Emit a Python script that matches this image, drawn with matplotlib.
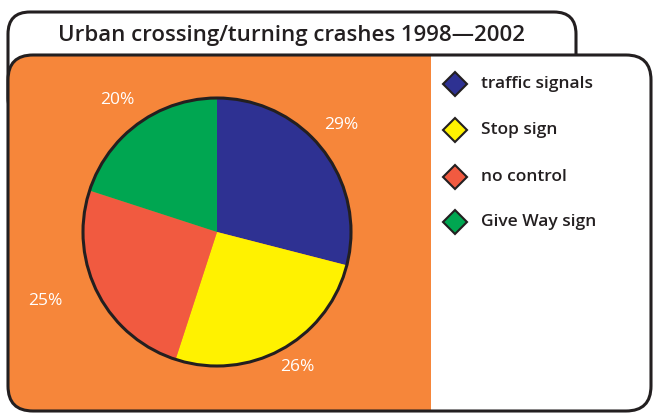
import matplotlib
matplotlib.use('Agg')
import matplotlib.pyplot as plt
from matplotlib.patches import FancyBboxPatch, Rectangle, Circle
import numpy as np

plt.rcParams['font.family'] = ['Open Sans', 'DejaVu Sans']

title = 'Urban crossing/turning crashes 1998\u20142002'
categories = ['traffic signals', 'Stop sign', 'no control', 'Give Way sign']
shares = [29, 26, 25, 20]
pct_labels = ['29%', '26%', '25%', '20%']

colors = ['#2E3192', '#FFF200', '#F15A40', '#00A651']
orange = '#F6863A'
ink = '#231F20'
H = 413

fig = plt.figure(figsize=(6.53, 4.13), dpi=100)
ax = fig.add_axes([0, 0, 1, 1])

# title tab (lower part hidden by main box)
tab = FancyBboxPatch((8 + 22, H - 120 + 22), 568 - 44, 108 - 44,
                     boxstyle='round,pad=22', fc='white', ec=ink, lw=2.2, zorder=1)
ax.add_patch(tab)
ax.text(292, H - 35, title, ha='center', va='center', fontsize=16,
        color=ink, fontweight='semibold', zorder=5)

# main box: orange left, white right
main = FancyBboxPatch((8 + 25, 2 + 25), 643 - 50, 356 - 50,
                      boxstyle='round,pad=25', fc=orange, ec='none', zorder=2)
ax.add_patch(main)
white = Rectangle((431, 0), 230, H, fc='white', ec='none', zorder=2.5)
ax.add_patch(white)
white.set_clip_path(main)
edge = FancyBboxPatch((8 + 25, 2 + 25), 643 - 50, 356 - 50,
                      boxstyle='round,pad=25', fc='none', ec=ink, lw=2.2, zorder=6)
ax.add_patch(edge)

# pie
cx, cy, r = 217, H - 232, 134
wedges, _ = ax.pie(shares, colors=colors, startangle=90, counterclock=False,
                   center=(cx, cy), radius=r, frame=True,
                   wedgeprops=dict(linewidth=0))
for w in wedges:
    w.set_zorder(3)
ax.add_patch(Circle((cx, cy), r, fc='none', ec=ink, lw=2.2, zorder=4))
ax.set_xlim(0, 653)
ax.set_ylim(0, H)
ax.set_aspect('equal')
ax.axis('off')

label_dist = [1.22, 1.17, 1.38, 1.23]
label_shift = [3, 2, -5, 1]
for w, lab, d, s in zip(wedges, pct_labels, label_dist, label_shift):
    ang = np.deg2rad((w.theta1 + w.theta2) / 2 + s)
    ax.text(cx + d * r * np.cos(ang), cy + d * r * np.sin(ang), lab,
            ha='center', va='center', color='white', fontsize=12.5,
            fontweight='medium', zorder=5)

# legend
leg_y = [84, 130, 177, 222]
for name, c, y in zip(categories, colors, leg_y):
    ax.plot(455, H - y, marker='D', markersize=12, mfc=c, mec=ink, mew=1.5,
            zorder=7, clip_on=False)
    ax.text(481, H - y, name, ha='left', va='center', fontsize=12.5,
            color=ink, fontweight='semibold', zorder=7)

fig.savefig('out.png', dpi=100)
